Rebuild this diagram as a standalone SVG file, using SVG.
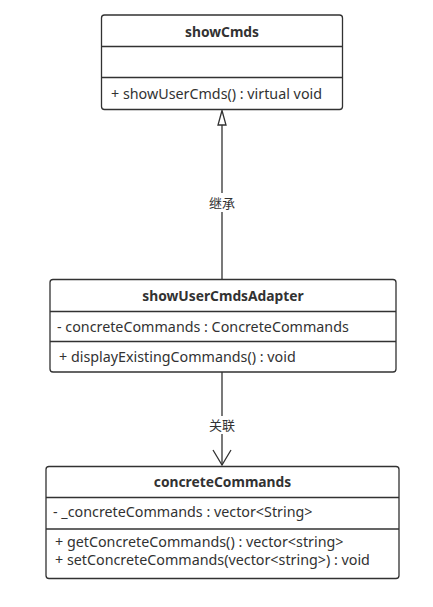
<svg xmlns="http://www.w3.org/2000/svg" width="433" height="607" viewBox="0 0 433 607">
<style>
.box{fill:#fff;stroke:#323232;stroke-width:1.3}
.div{stroke:#323232;stroke-width:1.3}
.t{font-family:"Noto Sans","Noto Sans CJK SC",sans-serif;font-size:14.3px;fill:#323232}
.b{font-weight:bold;text-anchor:middle;font-size:13.8px}
.lbl{font-family:"Noto Sans CJK SC","Noto Sans",sans-serif;font-size:13px;fill:#323232;text-anchor:middle}
.edge{stroke:#323232;stroke-width:1.3;fill:none}
</style>
<rect width="433" height="607" fill="#fff"/>
<g id="edges">
<line class="edge" x1="222" y1="125" x2="222" y2="193"/>
<line class="edge" x1="222" y1="212" x2="222" y2="279"/>
<polygon points="222,110.5 218,125 226,125" fill="#fff" stroke="#323232" stroke-width="1.3"/>
<text class="lbl" x="222" y="207.5">继承</text>
<line class="edge" x1="222" y1="372" x2="222" y2="416"/>
<line class="edge" x1="222" y1="434" x2="222" y2="465"/>
<polyline class="edge" points="213,450 222,465 231,450"/>
<text class="lbl" x="222" y="430">关联</text>
</g>
<g id="showCmds">
<rect class="box" x="101.5" y="15" width="241" height="94.5" rx="3"/>
<line class="div" x1="101.5" y1="46.5" x2="342.5" y2="46.5"/>
<line class="div" x1="101.5" y1="77.5" x2="342.5" y2="77.5"/>
<text class="t b" x="222" y="37">showCmds</text>
<text class="t" x="111" y="99">+ showUserCmds() : virtual void</text>
</g>
<g id="showUserCmdsAdapter">
<rect class="box" x="50" y="279.5" width="346" height="92.5" rx="3"/>
<line class="div" x1="50" y1="311.5" x2="396" y2="311.5"/>
<line class="div" x1="50" y1="341.5" x2="396" y2="341.5"/>
<text class="t b" x="223" y="300.5">showUserCmdsAdapter</text>
<text class="t" x="57" y="332">- concreteCommands : ConcreteCommands</text>
<text class="t" x="59" y="362">+ displayExistingCommands() : void</text>
</g>
<g id="concreteCommands">
<rect class="box" x="46" y="466.5" width="353" height="112" rx="3"/>
<line class="div" x1="46" y1="497.5" x2="399" y2="497.5"/>
<line class="div" x1="46" y1="529" x2="399" y2="529"/>
<text class="t b" x="222.5" y="487">concreteCommands</text>
<text class="t" x="53" y="517">- _concreteCommands : vector&lt;String&gt;</text>
<text class="t" x="55" y="547">+ getConcreteCommands() : vector&lt;string&gt;</text>
<text class="t" x="55" y="565">+ setConcreteCommands(vector&lt;string&gt;) : void</text>
</g>
</svg>
